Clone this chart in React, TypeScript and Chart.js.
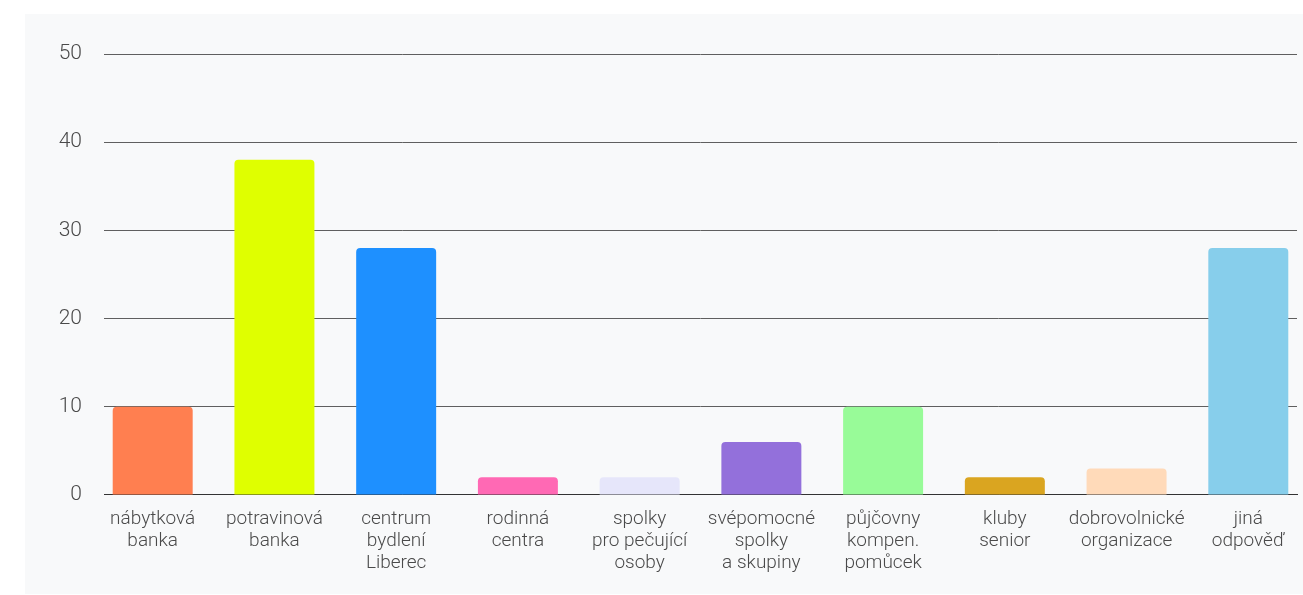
import React, { useEffect, useRef } from "react";
import { Chart, registerables } from "chart.js";

Chart.register(...registerables);

const categories: string[][] = [
  ["nábytková", "banka"],
  ["potravinová", "banka"],
  ["centrum", "bydlení", "Liberec"],
  ["rodinná", "centra"],
  ["spolky", "pro pečující", "osoby"],
  ["svépomocné", "spolky", "a skupiny"],
  ["půjčovny", "kompen.", "pomůcek"],
  ["kluby", "senior"],
  ["dobrovolnické", "organizace"],
  ["jiná", "odpověď"],
];

const values: number[] = [10, 38, 28, 2, 2, 6, 10, 2, 3, 28];

const barColors: string[] = [
  "#FF7F50",
  "#DFFF00",
  "#1E90FF",
  "#FF69B4",
  "#E6E6FA",
  "#9370DB",
  "#98FB98",
  "#DAA520",
  "#FFDAB9",
  "#87CEEB",
];

const yMin = 0;
const yMax = 50;
const yStep = 10;

export default function App() {
  const canvasRef = useRef<HTMLCanvasElement | null>(null);

  useEffect(() => {
    if (!canvasRef.current) return;
    const chart = new Chart(canvasRef.current, {
      type: "bar",
      data: {
        labels: categories,
        datasets: [
          {
            data: values,
            backgroundColor: barColors,
            borderRadius: 4,
            borderSkipped: "bottom",
            barPercentage: 0.657,
            categoryPercentage: 1,
          },
        ],
      },
      options: {
        animation: false,
        responsive: true,
        maintainAspectRatio: false,
        layout: { padding: { top: 40, right: 6, bottom: 7, left: 0 } },
        plugins: {
          legend: { display: false },
          tooltip: { enabled: false },
        },
        scales: {
          x: {
            offset: true,
            grid: { display: false, drawTicks: false },
            border: { display: true, color: "#333333", width: 1 },
            ticks: {
              color: "#4a4a4a",
              padding: 13,
              maxRotation: 0,
              autoSkip: false,
              font: { family: "Roboto", size: 19, weight: 300, lineHeight: 1.16 },
            },
            afterFit: (scale: any) => {
              const n = categories.length;
              scale._startValue = -0.4;
              scale._valueRange = n - 1 + 0.8;
            },
          },
          y: {
            min: yMin,
            max: yMax,
            grid: {
              color: "#5f5f5f",
              drawTicks: false,
            },
            border: { display: false },
            ticks: {
              stepSize: yStep,
              color: "#4a4a4a",
              padding: 22,
              font: { family: "Roboto", size: 21, weight: 300 },
            },
            afterFit: (scale: any) => {
              scale.width = 79;
            },
          },
        },
      },
    });
    return () => chart.destroy();
  }, []);

  return (
    <div
      style={{
        position: "absolute",
        left: 25,
        top: 14,
        width: 1278,
        height: 580,
        background: "#f8f9fa",
      }}
    >
      <canvas ref={canvasRef} />
    </div>
  );
}
